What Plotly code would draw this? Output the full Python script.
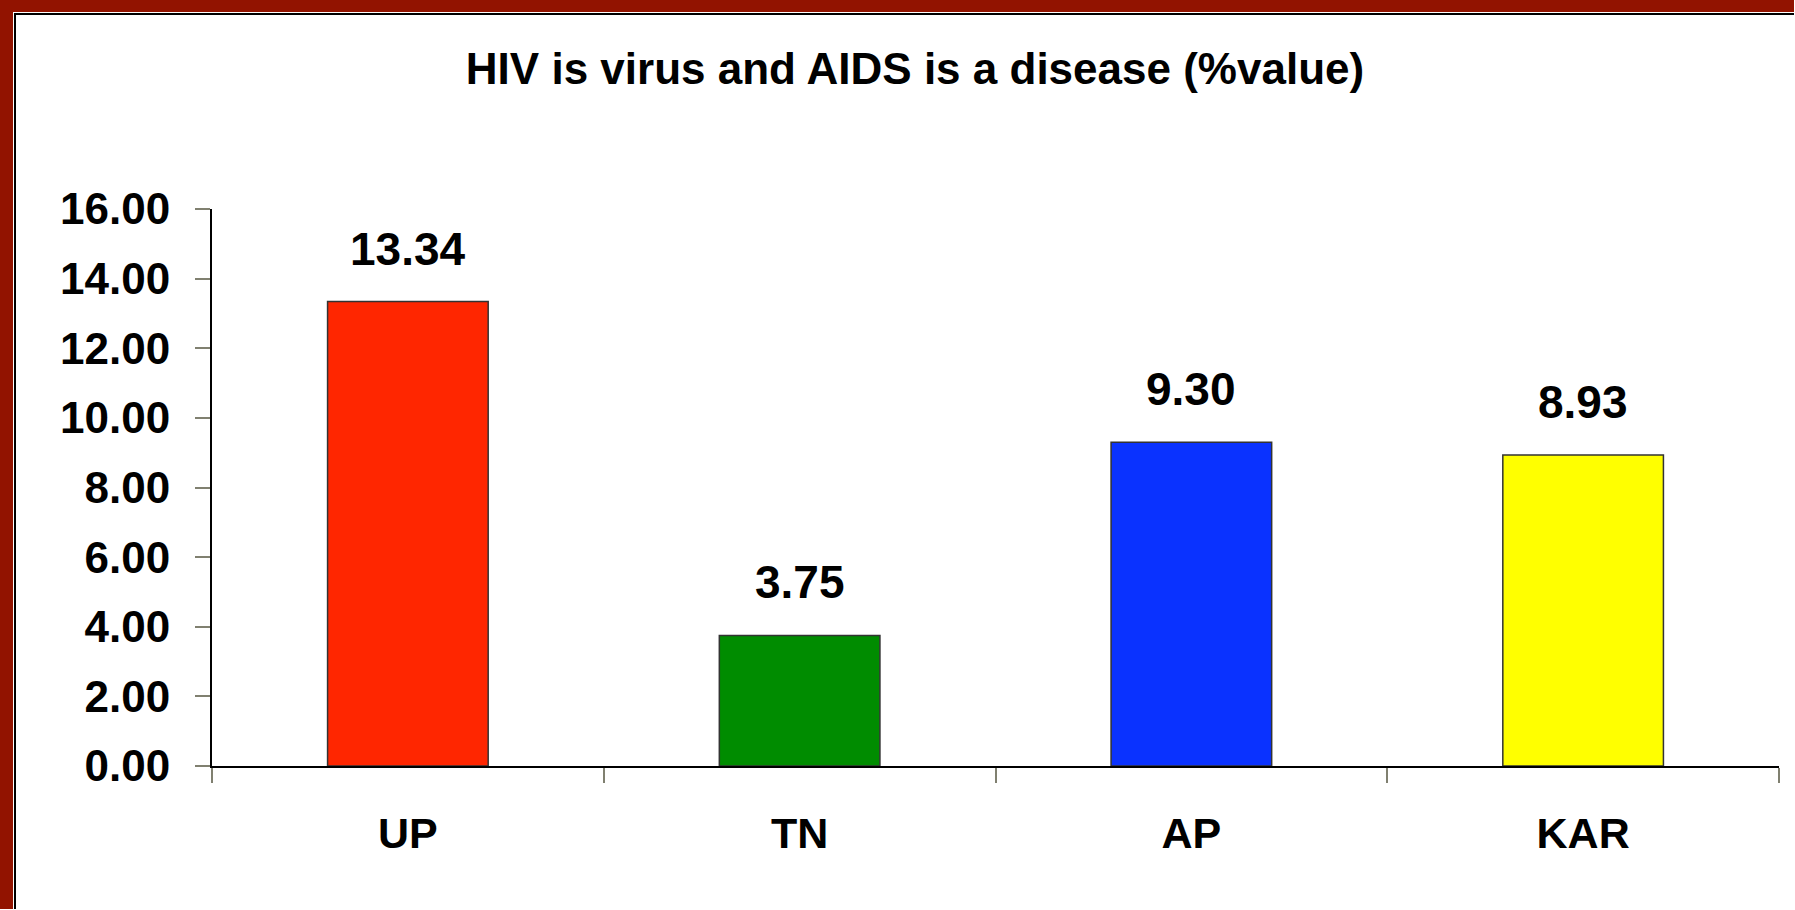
import plotly.graph_objects as go

categories = ["UP", "TN", "AP", "KAR"]
values = [13.34, 3.75, 9.30, 8.93]
bar_colors = ["#FF2600", "#008C00", "#0A32FF", "#FFFF00"]
y_ticks = [0, 2, 4, 6, 8, 10, 12, 14, 16]
y_ticklabels = [f"{v:.2f}" for v in y_ticks]
title_text = "HIV is virus and AIDS is a disease (%value)"

W, H = 1795, 910
L, R, T, B = 212, 16, 209, 144
PW, PH = W - L - R, H - T - B

def px_x(px):
    return (px - L) / PW

def px_y(py):
    return (H - B - py) / PH

FONT = "Liberation Sans, Arial, sans-serif"
FRAME_RED = "#921300"

fig = go.Figure()
fig.add_trace(go.Bar(
    x=categories, y=values,
    marker=dict(color=bar_colors, line=dict(color="#333333", width=1.5)),
    hoverinfo="skip",
))

for c, v in zip(categories, values):
    fig.add_annotation(
        x=c, y=v, xref="x", yref="y", text=f"{v:.2f}", showarrow=False,
        yanchor="middle", yshift=53,
        font=dict(family=FONT, size=46, color="black", weight="bold"),
    )

def frame_rect(x0, x1, y0, y1, color):
    return dict(type="rect", xref="paper", yref="paper",
                x0=px_x(x0), x1=px_x(x1), y0=px_y(y1), y1=px_y(y0),
                fillcolor=color, line=dict(width=0), layer="above")

shapes = [
    frame_rect(0, W - 1, 0, 12, FRAME_RED),
    frame_rect(0, 13, 0, H - 1, FRAME_RED),
    frame_rect(14, W - 1, 13, 15, "black"),
    frame_rect(14, 16, 13, H - 1, "black"),
]

fig.update_layout(
    width=W, height=H,
    margin=dict(l=L, r=R, t=T, b=B, autoexpand=False),
    paper_bgcolor="white",
    plot_bgcolor="rgba(0,0,0,0)",
    shapes=shapes,
    bargap=0.59,
    showlegend=False,
    title=dict(text=title_text, x=915 / W, xanchor="center", xref="container",
               y=1 - 69 / H, yanchor="middle", yref="container",
               font=dict(family=FONT, size=44, color="black", weight="bold")),
    xaxis=dict(
        type="category", showline=True, linecolor="black", linewidth=2,
        ticks="outside", ticklen=15, tickwidth=2, tickcolor="#808070",
        tickson="boundaries", showgrid=False, zeroline=False,
        ticklabelstandoff=28,
        tickfont=dict(family=FONT, size=43, color="black", weight="bold"),
    ),
    yaxis=dict(
        range=[0, 16], tickvals=y_ticks, ticktext=y_ticklabels,
        showline=True, linecolor="black", linewidth=2,
        ticks="outside", ticklen=15, tickwidth=2, tickcolor="#808070",
        showgrid=False, zeroline=False,
        ticklabelstandoff=16,
        tickfont=dict(family=FONT, size=44, color="black", weight="bold"),
    ),
)

fig.write_html(
    "out.html",
    config={"displayModeBar": False},
    post_script="document.body.style.margin='0';document.body.style.overflow='hidden';",
)
